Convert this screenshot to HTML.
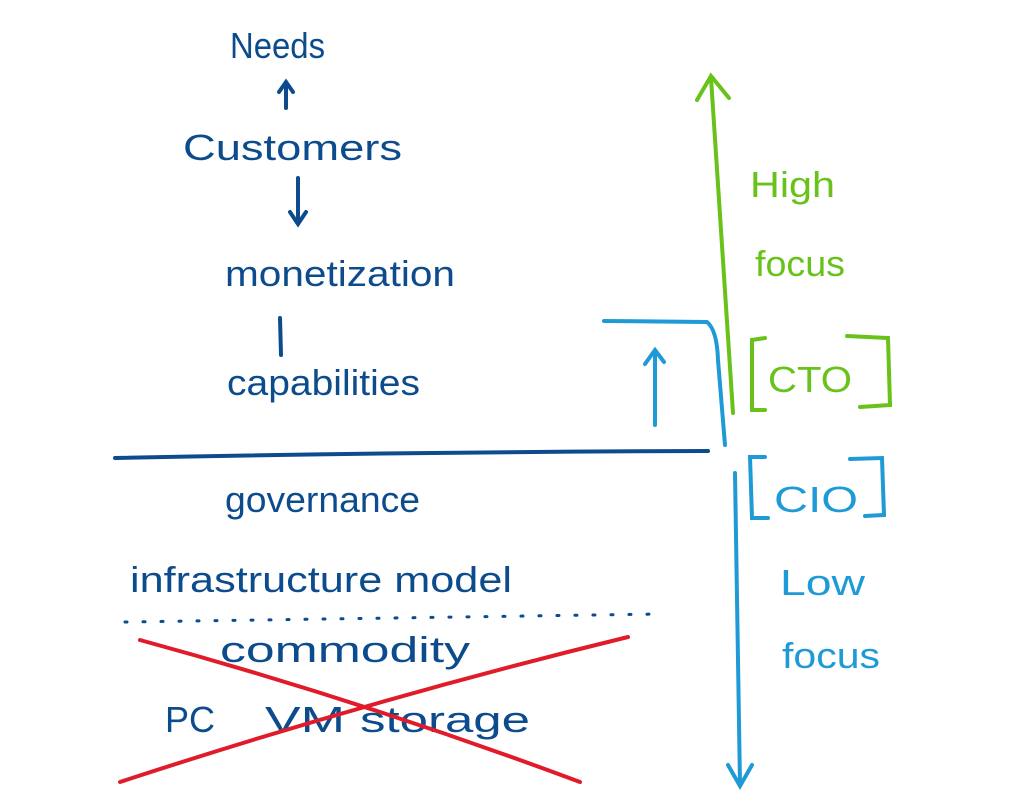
<!DOCTYPE html>
<html><head><meta charset="utf-8"><style>
html,body{margin:0;padding:0;background:#fff;}
svg{display:block}
text{font-family:"Liberation Sans",sans-serif;}
</style></head><body>
<svg width="1024" height="812" viewBox="0 0 1024 812" xmlns="http://www.w3.org/2000/svg">
<g fill="#0d4c8c" font-size="36">
<text x="230" y="58" textLength="95" lengthAdjust="spacingAndGlyphs">Needs</text>
<text x="183" y="160" textLength="219" lengthAdjust="spacingAndGlyphs">Customers</text>
<text x="225" y="286" textLength="230" lengthAdjust="spacingAndGlyphs">monetization</text>
<text x="227" y="395" textLength="193" lengthAdjust="spacingAndGlyphs">capabilities</text>
<text x="225" y="512" textLength="195" lengthAdjust="spacingAndGlyphs">governance</text>
<text x="130" y="592" textLength="382" lengthAdjust="spacingAndGlyphs">infrastructure model</text>
<text x="220" y="662" textLength="250" lengthAdjust="spacingAndGlyphs">commodity</text>
<text x="165" y="732" textLength="50" lengthAdjust="spacingAndGlyphs">PC</text>
<text x="265" y="732" textLength="80" lengthAdjust="spacingAndGlyphs">VM</text>
<text x="360" y="732" textLength="170" lengthAdjust="spacingAndGlyphs">storage</text>
</g>
<g stroke="#0d4c8c" stroke-width="4" fill="none" stroke-linecap="round">
<path d="M286 108 L286 82 M279 92 L286 82 L293 92"/>
<path d="M298 178 L298 222 M290 212 L298 224 L306 212"/>
<path d="M280 318 L281 355"/>
<path d="M115 458 Q400 452 708 451"/>
<path d="M125 622 L660 614" stroke-dasharray="2 16" stroke-width="3"/>
</g>
<g stroke="#e01c2a" stroke-width="4" fill="none" stroke-linecap="round">
<path d="M140 640 Q360 700 580 782"/>
<path d="M628 637 Q370 700 120 782"/>
</g>
<g stroke="#1e9ad6" stroke-width="4" fill="none" stroke-linecap="round">
<path d="M604 321 L707 322 Q717 330 718 360 L725 445"/>
<path d="M655 425 L655 350 M645 364 L655 350 L664 362"/>
<path d="M735 473 L740 785 M728 765 L740 786 L752 765"/>
<path d="M765 457 L750 457 L752 518 L768 518 M850 459 L882 458 L884 515 L865 516"/>
</g>
<g fill="#1e9ad6" font-size="36">
<text x="774" y="512" textLength="84" lengthAdjust="spacingAndGlyphs">CIO</text>
<text x="780" y="595" textLength="85" lengthAdjust="spacingAndGlyphs">Low</text>
<text x="782" y="668" textLength="98" lengthAdjust="spacingAndGlyphs">focus</text>
</g>
<g stroke="#68c21a" stroke-width="4" fill="none" stroke-linecap="round">
<path d="M711 78 L733 413 M697 100 L711 76 L729 98"/>
<path d="M765 338 L752 340 L752 410 L765 410 M847 336 L888 338 L890 405 L860 407"/>
</g>
<g fill="#68c21a" font-size="36">
<text x="768" y="392" textLength="84" lengthAdjust="spacingAndGlyphs">CTO</text>
<text x="750" y="197" textLength="85" lengthAdjust="spacingAndGlyphs">High</text>
<text x="755" y="276" textLength="90" lengthAdjust="spacingAndGlyphs">focus</text>
</g>
</svg>
</body></html>
